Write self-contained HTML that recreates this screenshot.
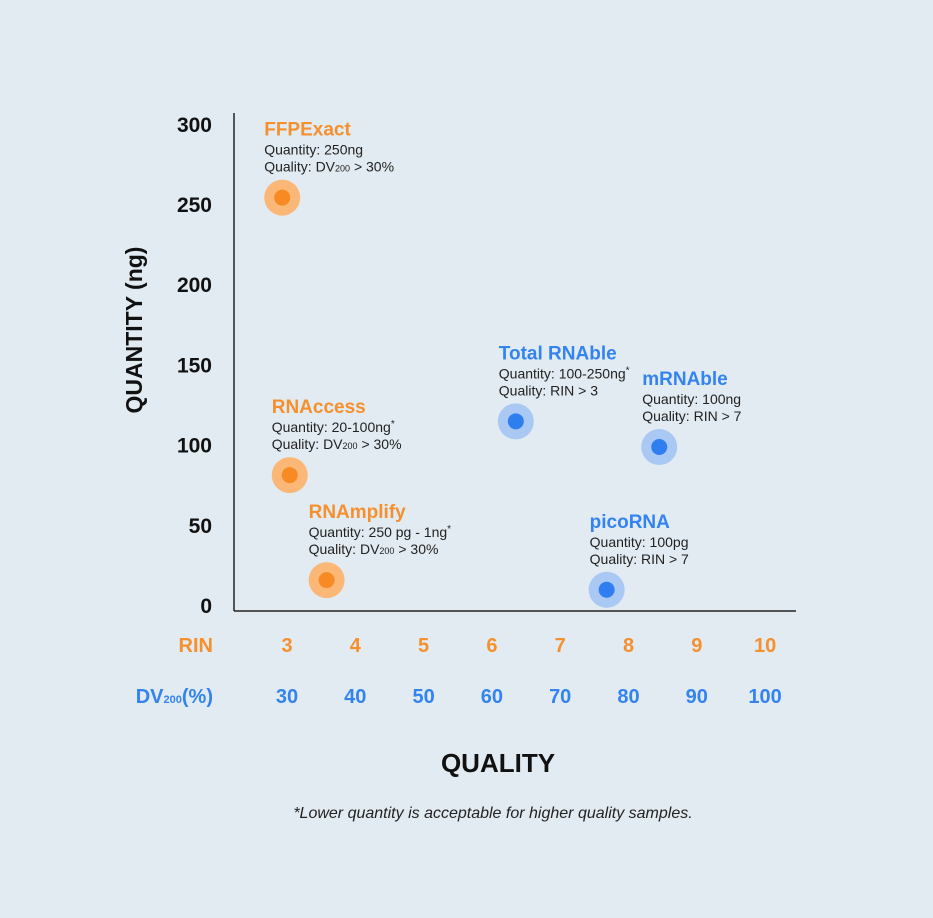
<!DOCTYPE html>
<html><head><meta charset="utf-8">
<style>
html,body{margin:0;padding:0;background:#e2ebf1;}
svg{display:block;font-family:"Liberation Sans Narrow","Liberation Sans",sans-serif;}
</style></head>
<body>
<svg id="chart" width="933" height="918" viewBox="0 0 933 918" xmlns="http://www.w3.org/2000/svg">
<rect width="933" height="918" fill="#e2ebf1"/>
<line x1="234" y1="113" x2="234" y2="611" stroke="#222" stroke-width="1.5"/>
<line x1="234" y1="611" x2="796" y2="611" stroke="#222" stroke-width="1.5"/>
<text x="142" y="330" transform="rotate(-90 142 330)" text-anchor="middle" font-size="23" font-weight="bold" fill="#111">QUANTITY (ng)</text>
<text x="498" y="772" text-anchor="middle" font-size="26" font-weight="bold" fill="#111">QUALITY</text>
<text x="213" y="652" text-anchor="end" font-size="20" font-weight="bold" fill="#f5902e">RIN</text>
<text x="213" y="703" text-anchor="end" font-size="20" font-weight="bold" fill="#3384f0">DV<tspan font-size="11">200</tspan>(%)</text>
<text x="493" y="818" text-anchor="middle" font-size="16" font-style="italic" fill="#222">*Lower quantity is acceptable for higher quality samples.</text>
<g id="g"></g>
</svg>
<script>
const yTicks=[0,50,100,150,200,250,300];
const rinTicks=[3,4,5,6,7,8,9,10];
const dvTicks=[30,40,50,60,70,80,90,100];
const names=["FFPExact","RNAccess","RNAmplify","Total RNAble","mRNAble","picoRNA"];
const rinValues=[2.93,3.04,3.58,6.35,8.45,7.68];
const qtyValues=[254,81,15.5,114.5,98.5,9.5];
const groups=["orange","orange","orange","blue","blue","blue"];
const line1=["Quantity: 250ng","Quantity: 20-100ng*","Quantity: 250 pg - 1ng*","Quantity: 100-250ng*","Quantity: 100ng","Quantity: 100pg"];
const line2=["DV","DV","DV","RIN > 3","RIN > 7","RIN > 7"];

const NS="http://www.w3.org/2000/svg";
const g=document.getElementById('g');
const xS=v=>287+(v-3)*68.3;
const yS=v=>605-v*1.604;
function mk(t,a,txt){const e=document.createElementNS(NS,t);for(const k in a)e.setAttribute(k,a[k]);if(txt!=null)e.textContent=txt;g.appendChild(e);return e;}

yTicks.forEach(v=>{
  const e=mk('text',{x:212,y:yS(v)+8,'text-anchor':'end','font-size':21,'font-weight':'bold',fill:'#111'},v);
  
  
});
rinTicks.forEach(v=>{
  const e=mk('text',{x:xS(v),y:652,'text-anchor':'middle','font-size':20,'font-weight':'bold',fill:'#f5902e'},v);
  
  
});
dvTicks.forEach((v,i)=>{
  const e=mk('text',{x:xS(rinTicks[i]),y:703,'text-anchor':'middle','font-size':20,'font-weight':'bold',fill:'#3384f0'},v);
  
  
});
const dx=[-18,-18,-18,-17,-17,-17];
names.forEach((n,i)=>{
  const cx=xS(rinValues[i]), cy=yS(qtyValues[i]);
  const or=groups[i]==='orange';
  const outer=mk('circle',{cx:cx,cy:cy,r:18,fill:or?'#fbb776':'#a9c8f4'});
  
  
  const inner=mk('circle',{cx:cx,cy:cy,r:8,fill:or?'#f78a22':'#2f7ef0'});
  
  
  const lx=cx+dx[i], ty=cy-62;
  const t=mk('text',{x:lx,y:ty,'font-size':19,'font-weight':'bold',fill:or?'#f5902e':'#3384f0'},n);
  
  
  const s=line1[i];
  const t1=mk('text',{x:lx,y:ty+19,'font-size':14,fill:'#222'},s.replace('*',''));
  
  
  if(s.endsWith('*')){const sp=document.createElementNS(NS,'tspan');sp.setAttribute('dy','-5');sp.setAttribute('font-size','10');sp.textContent='*';t1.appendChild(sp);}
  const t2=mk('text',{x:lx,y:ty+36,'font-size':14,fill:'#222'},null);
  
  
  if(line2[i]==='DV'){t2.innerHTML='Quality: DV<tspan font-size="9">200</tspan> &gt; 30%';}
  else t2.textContent='Quality: '+line2[i];
});
</script>
</body></html>
